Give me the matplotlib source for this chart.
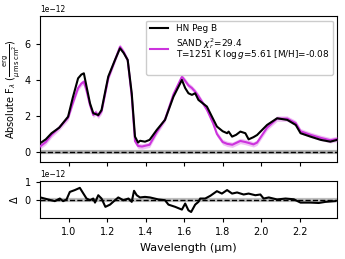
import matplotlib
matplotlib.use("Agg")
import matplotlib.pyplot as plt
import numpy as np

# Observed spectrum (HN Peg B), flux in units of 1e-12
obs_wave = [0.85, 0.88, 0.91, 0.95, 0.996, 1.02, 1.048, 1.065, 1.078, 1.092, 1.11, 1.127,
            1.153, 1.17, 1.19, 1.205, 1.24, 1.266, 1.285, 1.306, 1.327, 1.344, 1.36, 1.37,
            1.396, 1.42, 1.457, 1.50, 1.544, 1.588, 1.605, 1.622, 1.64, 1.657, 1.674, 1.718,
            1.77, 1.80, 1.823, 1.831, 1.849, 1.87, 1.892, 1.918, 1.935, 1.96, 1.979, 2.031,
            2.083, 2.136, 2.18, 2.205, 2.257, 2.31, 2.36, 2.396]
obs_flux = [0.48, 0.70, 1.04, 1.35, 1.96, 3.00, 4.09, 4.30, 4.37, 3.63, 2.70, 2.15,
            2.05, 2.33, 3.40, 4.19, 5.11, 5.76, 5.50, 5.11, 3.26, 0.85, 0.52, 0.62,
            0.57, 0.67, 1.22, 1.78, 3.07, 4.00, 3.55, 3.26, 3.17, 3.26, 2.89, 2.52,
            1.41, 1.15, 1.04, 1.13, 0.85, 0.95, 1.13, 1.04, 0.70, 0.82, 0.94, 1.50,
            1.87, 1.78, 1.50, 1.04, 0.85, 0.67, 0.57, 0.67]

# Model spectrum (SAND), flux in units of 1e-12
mod_wave = [0.85, 0.88, 0.91, 0.95, 0.996, 1.02, 1.048, 1.065, 1.078, 1.092, 1.11, 1.127,
            1.14, 1.153, 1.17, 1.19, 1.205, 1.24, 1.266, 1.285, 1.306, 1.327, 1.344, 1.36,
            1.38, 1.42, 1.457, 1.50, 1.544, 1.588, 1.605, 1.622, 1.64, 1.657, 1.674, 1.718,
            1.75, 1.77, 1.80, 1.823, 1.85, 1.87, 1.892, 1.918, 1.935, 1.96, 1.979, 2.031,
            2.083, 2.136, 2.18, 2.205, 2.257, 2.31, 2.36, 2.396]
mod_flux = [0.30, 0.55, 0.95, 1.35, 1.90, 2.70, 3.55, 3.80, 3.90, 3.40, 2.60, 2.05,
            2.20, 2.00, 2.25, 3.30, 4.10, 5.10, 5.85, 5.55, 5.10, 3.10, 0.60, 0.33,
            0.30, 0.40, 1.10, 1.80, 3.20, 4.18, 3.95, 3.70, 3.55, 3.35, 3.10, 2.35,
            1.60, 1.00, 0.55, 0.45, 0.40, 0.50, 0.61, 0.55, 0.50, 0.42, 0.52, 1.35,
            1.85, 1.85, 1.60, 1.15, 0.95, 0.78, 0.65, 0.72]
mod_err = 0.15

# Residuals (obs - model), units of 1e-12
res_wave = [0.852, 0.892, 0.927, 0.953, 0.97, 0.988, 1.005, 1.031, 1.057, 1.075, 1.092, 1.11,
            1.127, 1.136, 1.153, 1.17, 1.19, 1.214, 1.24, 1.257, 1.283, 1.31, 1.327, 1.339,
            1.353, 1.37, 1.396, 1.422, 1.466, 1.50, 1.518, 1.553, 1.588, 1.605, 1.622, 1.636,
            1.657, 1.674, 1.683, 1.709, 1.736, 1.77, 1.796, 1.823, 1.849, 1.875, 1.909, 1.935,
            1.97, 1.996, 2.013, 2.04, 2.083, 2.127, 2.17, 2.205, 2.257, 2.30, 2.335, 2.387]
res_flux = [0.15, 0.04, -0.05, 0.09, -0.05, 0.04, 0.45, 0.55, 0.67, 0.37, 0.09, 0.0,
            0.09, -0.13, 0.27, 0.09, -0.36, -0.24, 0.0, 0.15, 0.0, 0.09, -0.09, 0.51,
            0.27, 0.15, 0.18, 0.15, 0.04, 0.0, -0.24, -0.36, -0.51, -0.18, -0.55, -0.64,
            -0.24, -0.09, 0.09, 0.09, 0.24, 0.49, 0.36, 0.55, 0.36, 0.42, 0.31, 0.36,
            0.27, 0.31, 0.09, 0.15, 0.04, 0.09, 0.05, -0.13, -0.13, -0.15, -0.09, -0.05]

scale = 1e-12
obs_w = np.array(obs_wave); obs_f = np.array(obs_flux) * scale
mod_w = np.array(mod_wave); mod_f = np.array(mod_flux) * scale
res_w = np.array(res_wave); res_f = np.array(res_flux) * scale

magenta = '#cc33dd'
fs = 7

fig = plt.figure(figsize=(3.45, 2.59), dpi=100)
ax = fig.add_axes([0.116, 0.3745, 0.861, 0.5635])
axr = fig.add_axes([0.116, 0.158, 0.861, 0.143])

# zero line with gray noise band
ax.plot([0.85, 2.4], [0, 0], color='gray', lw=3, alpha=0.6, zorder=1)
ax.axhline(0, color='k', ls='--', lw=1, zorder=2)

ax.fill_between(mod_w, mod_f - mod_err * scale, mod_f + mod_err * scale,
                color=magenta, alpha=0.3, lw=0, zorder=3)
ax.plot(obs_w, obs_f, color='k', lw=1.5, zorder=5, label='HN Peg B')
ax.plot(mod_w, mod_f, color=magenta, lw=1.5, zorder=4,
        label='SAND $\\chi^2_r$=29.4\nT=1251 K log$\\,g$=5.61 [M/H]=-0.08')
ax.plot([], [], color='none', label=' ')

ax.set_xlim(0.85, 2.395)
ax.set_ylim(-0.56e-12, 7.55e-12)
ax.set_yticks(np.array([0, 2, 4, 6]) * scale)
ax.set_xticks([1.0, 1.2, 1.4, 1.6, 1.8, 2.0, 2.2])
ax.tick_params(labelbottom=False, labelsize=fs, length=3)
ax.yaxis.get_offset_text().set_fontsize(5.5)
ax.set_ylabel('Absolute F$_\\lambda$ ($\\frac{\\mathrm{erg}}{\\mu\\mathrm{m\\,s\\,cm}^2}$)',
              fontsize=fs)
ax.yaxis.set_label_coords(-0.062, 0.5)
leg = ax.legend(loc='upper right', fontsize=6.4, framealpha=1, handlelength=2.1,
                borderpad=0.4, labelspacing=0.3, handletextpad=0.8)
leg.get_texts()[1].set_linespacing(0.75)
leg.get_texts()[2].set_fontsize(3.5)

axr.plot([0.85, 2.4], [0, 0], color='gray', lw=3, alpha=0.5, zorder=1)
axr.axhline(0, color='k', ls='--', lw=1, zorder=2)
axr.plot(res_w, res_f, color='k', lw=1.5, zorder=3)
axr.set_xlim(0.85, 2.395)
axr.set_ylim(-0.97e-12, 1.04e-12)
axr.set_yticks(np.array([0, 1]) * scale)
axr.set_xticks([1.0, 1.2, 1.4, 1.6, 1.8, 2.0, 2.2])
axr.tick_params(labelsize=fs, length=3)
axr.yaxis.get_offset_text().set_fontsize(5.5)
axr.set_ylabel('$\\Delta$', fontsize=fs)
axr.yaxis.set_label_coords(-0.068, 0.5)
axr.set_xlabel('Wavelength (µm)', fontsize=8)

fig.savefig('out.png', dpi=100)
